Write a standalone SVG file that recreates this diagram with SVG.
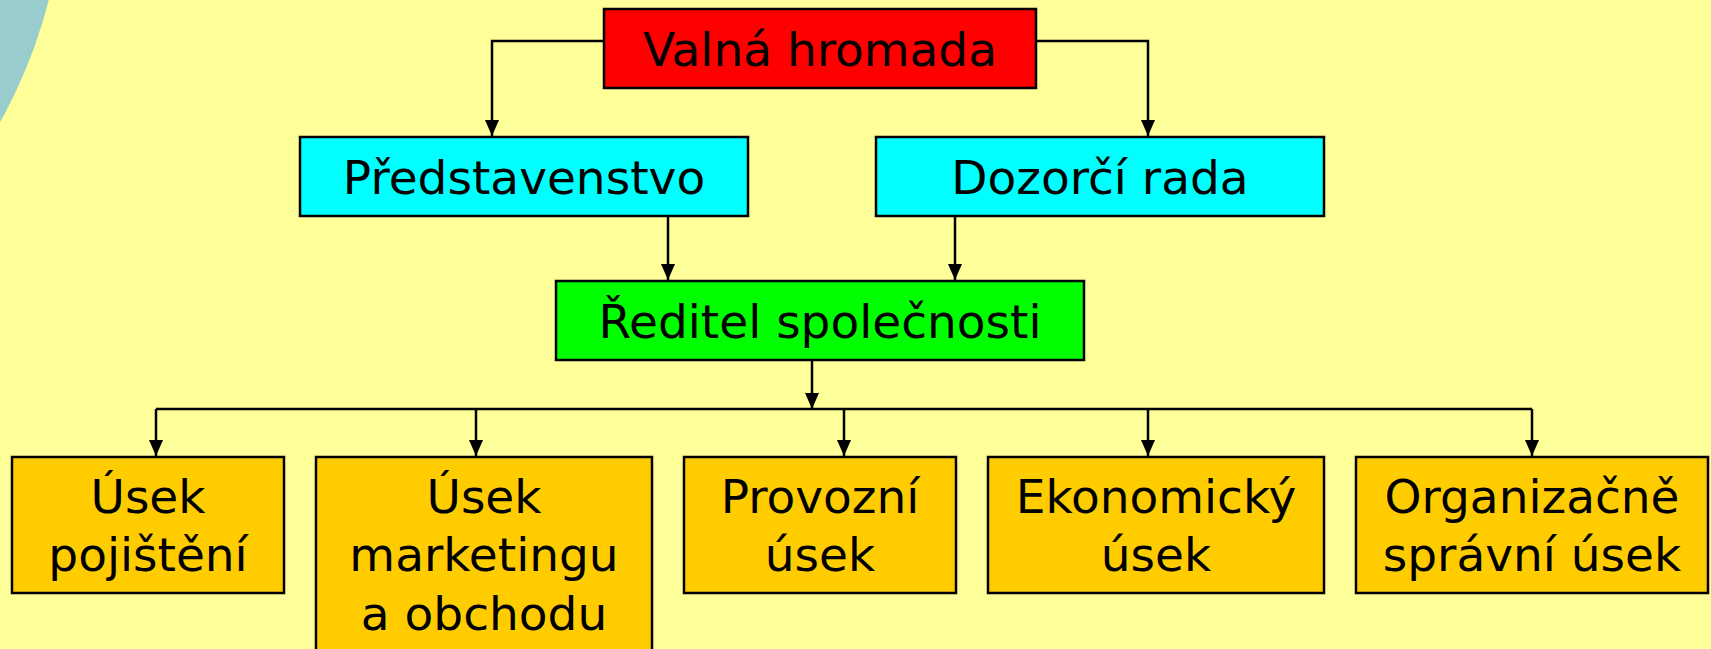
<svg xmlns="http://www.w3.org/2000/svg" width="1711" height="649" viewBox="0 0 1711 649">
<style>
.box{stroke:#000;stroke-width:2.5}
.t{font-family:"DejaVu Sans","Verdana",sans-serif;font-size:47px;fill:#000;text-anchor:middle}
.c{fill:none;stroke:#000;stroke-width:2.5}
</style>
<defs>
<marker id="ah" viewBox="0 0 16 14" refX="16" refY="7" markerWidth="16" markerHeight="14" markerUnits="userSpaceOnUse" orient="auto">
<path d="M0,0 L16,7 L0,14 Z" fill="#000"/>
</marker>
</defs>
<rect width="1711" height="649" fill="#FFFF99"/>
<circle cx="-438" cy="-123" r="502" fill="#99CCCC"/>
<g id="connectors">
<polyline class="c" points="604,41 492,41 492,136" marker-end="url(#ah)"/>
<polyline class="c" points="1036,41 1148,41 1148,136" marker-end="url(#ah)"/>
<line class="c" x1="668" y1="216" x2="668" y2="280" marker-end="url(#ah)"/>
<line class="c" x1="955" y1="216" x2="955" y2="280" marker-end="url(#ah)"/>
<line class="c" x1="812" y1="360" x2="812" y2="409" marker-end="url(#ah)"/>
<line class="c" x1="156" y1="409" x2="1532" y2="409"/>
<line class="c" x1="156" y1="409" x2="156" y2="456" marker-end="url(#ah)"/>
<line class="c" x1="476" y1="409" x2="476" y2="456" marker-end="url(#ah)"/>
<line class="c" x1="844" y1="409" x2="844" y2="456" marker-end="url(#ah)"/>
<line class="c" x1="1148" y1="409" x2="1148" y2="456" marker-end="url(#ah)"/>
<line class="c" x1="1532" y1="409" x2="1532" y2="456" marker-end="url(#ah)"/>
</g>
<g id="valna">
<rect class="box" x="604" y="9" width="432" height="79" fill="#FF0000"/>
<text class="t" x="820" y="66">Valná hromada</text>
</g>
<g id="predstavenstvo">
<rect class="box" x="300" y="137" width="448" height="79" fill="#00FFFF"/>
<text class="t" x="524" y="194">Představenstvo</text>
</g>
<g id="dozorci">
<rect class="box" x="876" y="137" width="448" height="79" fill="#00FFFF"/>
<text class="t" x="1100" y="194">Dozorčí rada</text>
</g>
<g id="reditel">
<rect class="box" x="556" y="281" width="528" height="79" fill="#00FF00"/>
<text class="t" x="820" y="338">Ředitel společnosti</text>
</g>
<g id="pojisteni">
<rect class="box" x="12" y="457" width="272" height="136" fill="#FFCC00"/>
<text class="t" x="148" y="513">Úsek</text>
<text class="t" x="148" y="571">pojištění</text>
</g>
<g id="marketing">
<rect class="box" x="316" y="457" width="336" height="200" fill="#FFCC00"/>
<text class="t" x="484" y="513">Úsek</text>
<text class="t" x="484" y="571">marketingu</text>
<text class="t" x="484" y="630">a obchodu</text>
</g>
<g id="provozni">
<rect class="box" x="684" y="457" width="272" height="136" fill="#FFCC00"/>
<text class="t" x="820" y="513">Provozní</text>
<text class="t" x="820" y="571">úsek</text>
</g>
<g id="ekonomicky">
<rect class="box" x="988" y="457" width="336" height="136" fill="#FFCC00"/>
<text class="t" x="1156" y="513">Ekonomický</text>
<text class="t" x="1156" y="571">úsek</text>
</g>
<g id="organizacne">
<rect class="box" x="1356" y="457" width="352" height="136" fill="#FFCC00"/>
<text class="t" x="1532" y="513">Organizačně</text>
<text class="t" x="1532" y="571">správní úsek</text>
</g>
</svg>
